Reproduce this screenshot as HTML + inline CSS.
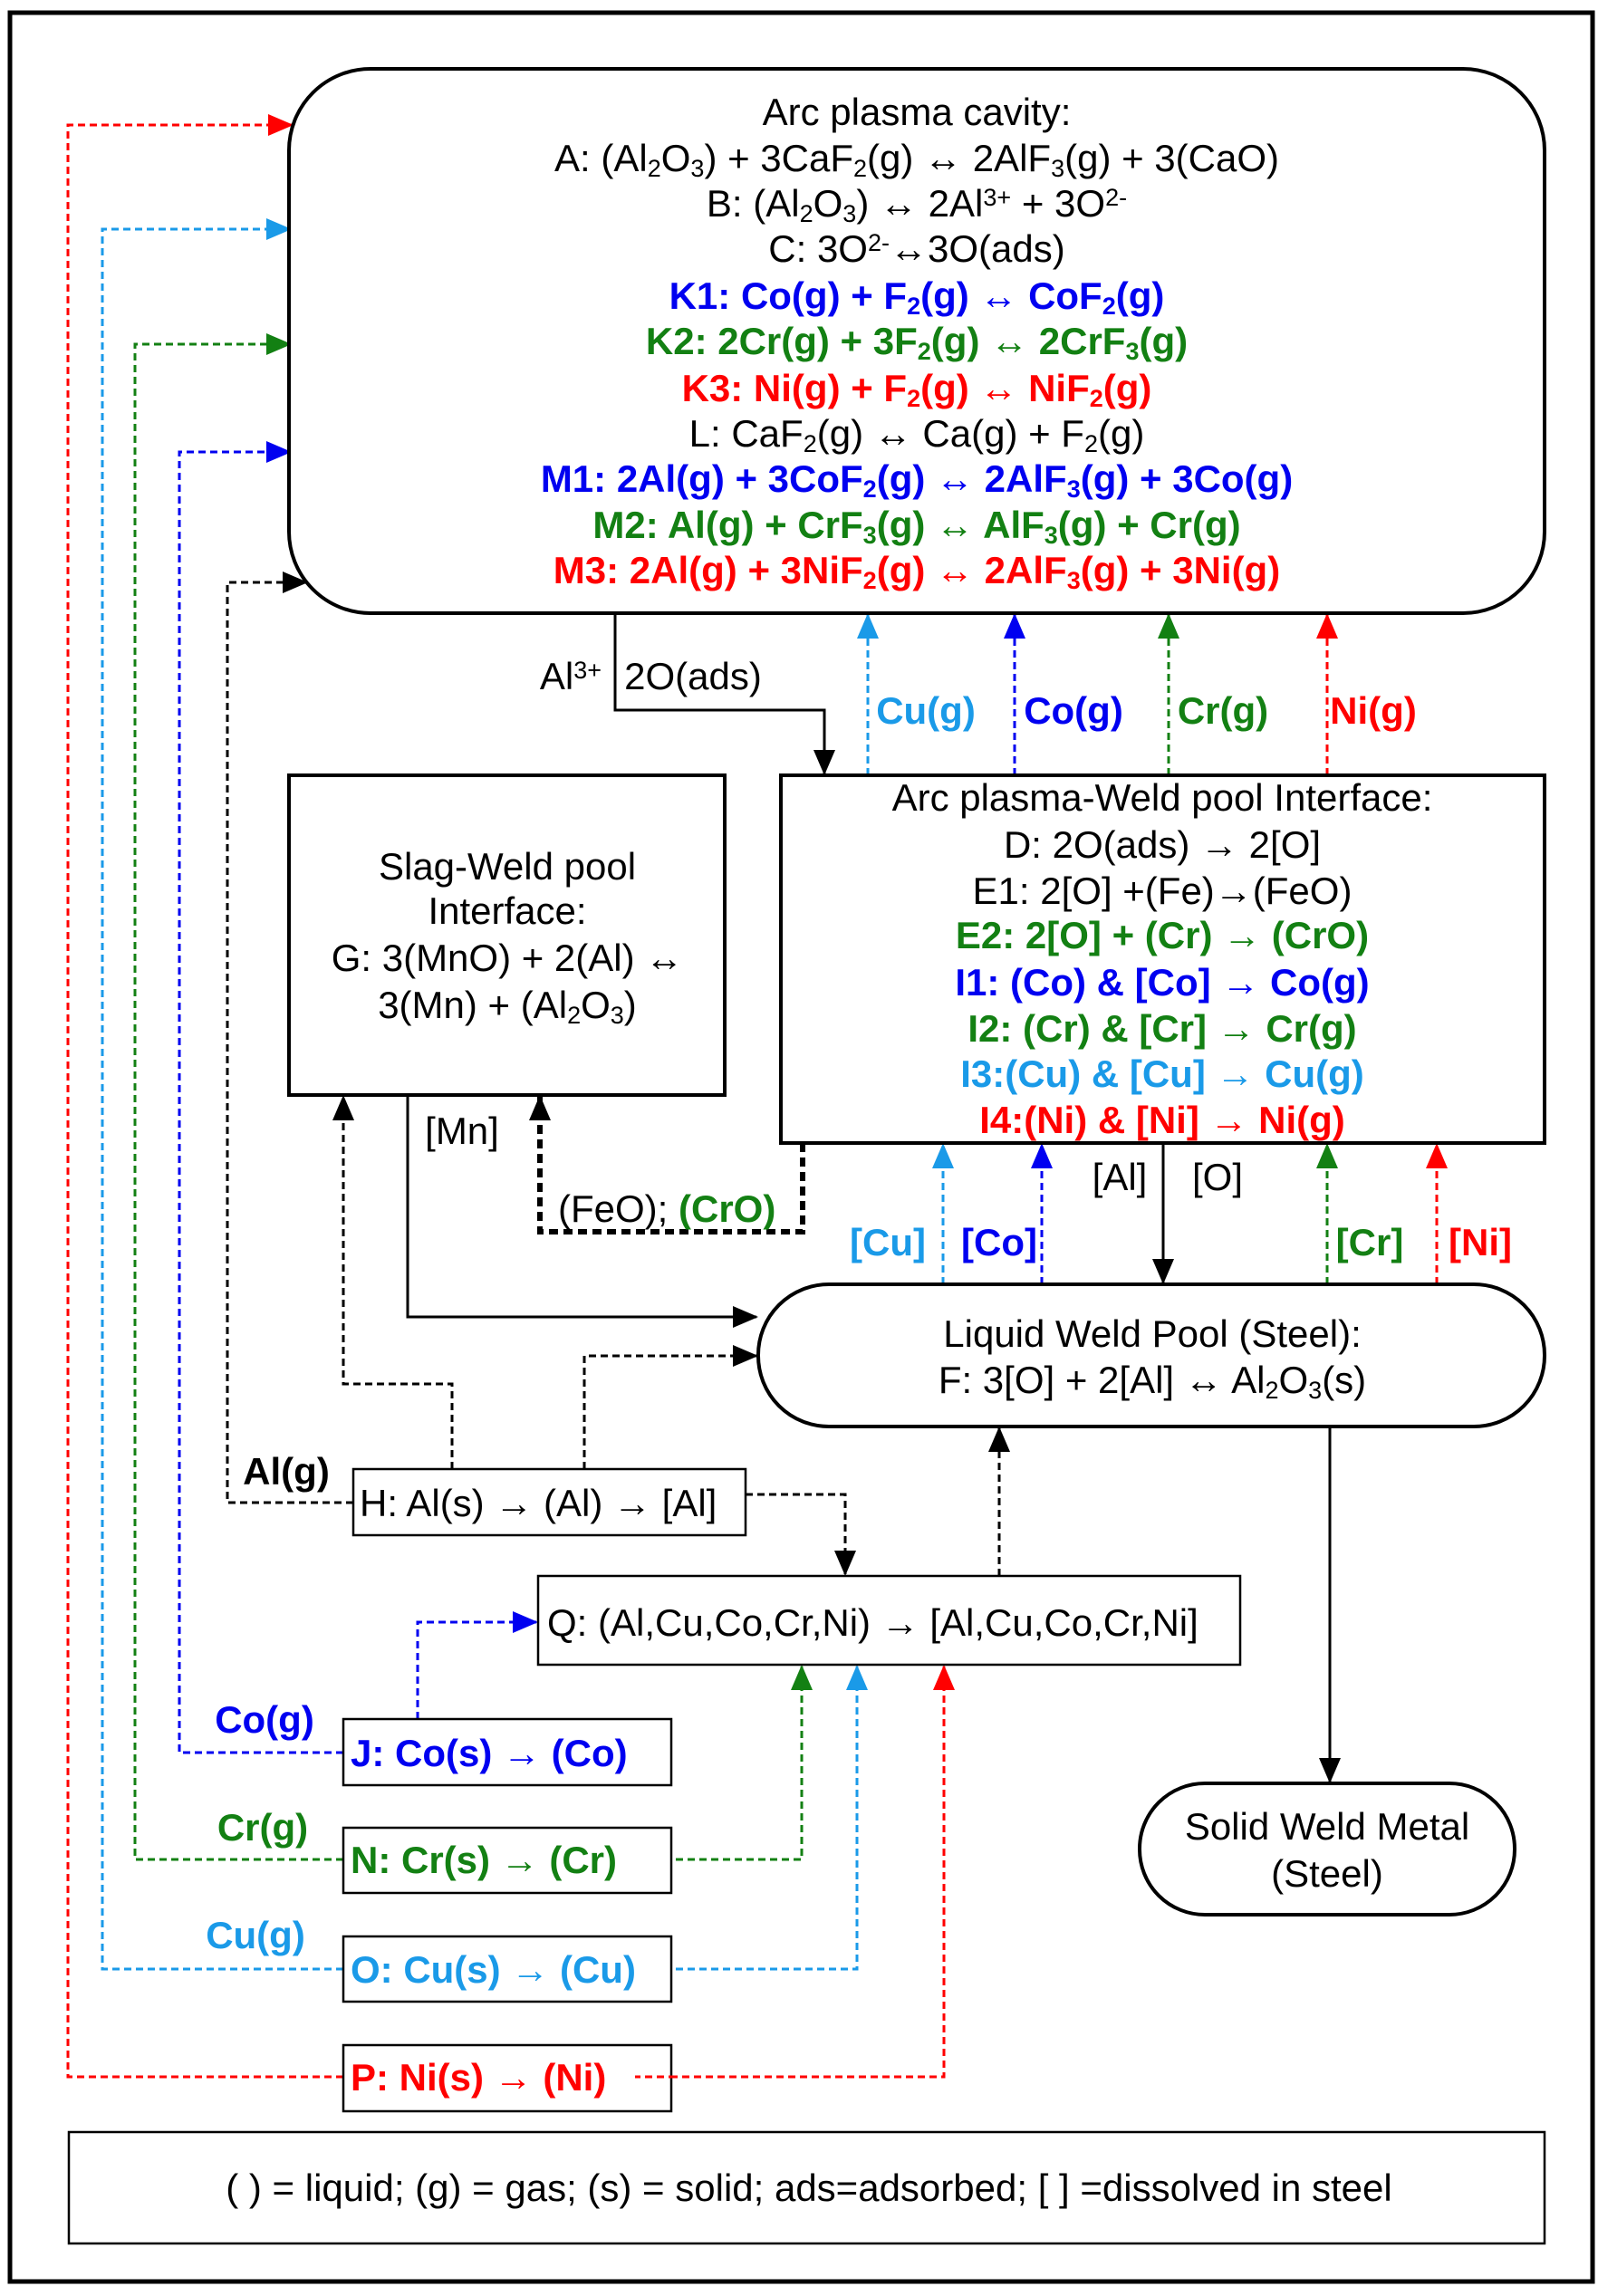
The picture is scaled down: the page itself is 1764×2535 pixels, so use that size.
<!DOCTYPE html>
<html><head><meta charset="utf-8"><style>
html,body{margin:0;padding:0;background:#fff}
svg{display:block}
text{font-family:"Liberation Sans",Arial,sans-serif;font-size:42px}
.b{font-weight:bold}
.s{font-size:27px;baseline-shift:-22%}
.p{font-size:27px;baseline-shift:45%}
.bl{fill:#0000f0}.gr{fill:#138013}.rd{fill:#ff0000}.lb{fill:#1a9ae8}
</style></head><body>
<svg width="1764" height="2535" viewBox="0 0 1764 2535" xmlns="http://www.w3.org/2000/svg">
<defs>
<marker id="mk" markerWidth="28" markerHeight="24" refX="26" refY="12" orient="auto" markerUnits="userSpaceOnUse"><path d="M0,0 L28,12 L0,24 Z" fill="#000"/></marker>
<marker id="mb" markerWidth="28" markerHeight="24" refX="26" refY="12" orient="auto" markerUnits="userSpaceOnUse"><path d="M0,0 L28,12 L0,24 Z" fill="#0000f0"/></marker>
<marker id="mg" markerWidth="28" markerHeight="24" refX="26" refY="12" orient="auto" markerUnits="userSpaceOnUse"><path d="M0,0 L28,12 L0,24 Z" fill="#138013"/></marker>
<marker id="mr" markerWidth="28" markerHeight="24" refX="26" refY="12" orient="auto" markerUnits="userSpaceOnUse"><path d="M0,0 L28,12 L0,24 Z" fill="#ff0000"/></marker>
<marker id="ml" markerWidth="28" markerHeight="24" refX="26" refY="12" orient="auto" markerUnits="userSpaceOnUse"><path d="M0,0 L28,12 L0,24 Z" fill="#1a9ae8"/></marker>
</defs>
<rect x="11" y="14" width="1747" height="2505" fill="none" stroke="#000" stroke-width="5"/>

<g fill="none" stroke-width="3" stroke-dasharray="8,5">
<path d="M379 2293 H75 V138 H322" stroke="#ff0000" marker-end="url(#mr)"/>
<path d="M379 2174 H113 V253 H320" stroke="#1a9ae8" marker-end="url(#ml)"/>
<path d="M379 2053 H149 V380 H320" stroke="#138013" marker-end="url(#mg)"/>
<path d="M379 1935 H198 V499 H320" stroke="#0000f0" marker-end="url(#mb)"/>
<path d="M390 1659 H251 V643 H338" stroke="#000" marker-end="url(#mk)"/>
<path d="M958 856 V679" stroke="#1a9ae8" marker-end="url(#ml)"/>
<path d="M1120 856 V679" stroke="#0000f0" marker-end="url(#mb)"/>
<path d="M1290 856 V679" stroke="#138013" marker-end="url(#mg)"/>
<path d="M1465 856 V679" stroke="#ff0000" marker-end="url(#mr)"/>
<path d="M1041 1418 V1264" stroke="#1a9ae8" marker-end="url(#ml)"/>
<path d="M1150 1418 V1264" stroke="#0000f0" marker-end="url(#mb)"/>
<path d="M1465 1418 V1264" stroke="#138013" marker-end="url(#mg)"/>
<path d="M1586 1418 V1264" stroke="#ff0000" marker-end="url(#mr)"/>
<path d="M499 1622 V1528 H379 V1211" stroke="#000" marker-end="url(#mk)"/>
<path d="M645 1622 V1497 H835" stroke="#000" marker-end="url(#mk)"/>
<path d="M823 1650 H933 V1738" stroke="#000" marker-end="url(#mk)"/>
<path d="M1103 1740 V1577" stroke="#000" marker-end="url(#mk)"/>
<path d="M461 1898 V1791 H592" stroke="#0000f0" marker-end="url(#mb)"/>
<path d="M746 2053 H885 V1840" stroke="#138013" marker-end="url(#mg)"/>
<path d="M746 2174 H946 V1840" stroke="#1a9ae8" marker-end="url(#ml)"/>
<path d="M701 2293 H1042 V1840" stroke="#ff0000" marker-end="url(#mr)"/>
</g>
<path d="M886 1262 V1360 H596 V1211" fill="none" stroke="#000" stroke-width="6" stroke-dasharray="10,6" marker-end="url(#mk)"/>
<g fill="none" stroke="#000" stroke-width="3">
<path d="M679 677 V784 H910 V854" marker-end="url(#mk)"/>
<path d="M450 1209 V1454 H835" marker-end="url(#mk)"/>
<path d="M1284 1262 V1416" marker-end="url(#mk)"/>
<path d="M1468 1575 V1967" marker-end="url(#mk)"/>
</g>

<g fill="#fff" stroke="#000">
<rect x="319" y="76" width="1386" height="601" rx="90" stroke-width="4"/>
<rect x="862" y="856" width="843" height="406" stroke-width="4"/>
<rect x="319" y="856" width="481" height="353" stroke-width="4"/>
<rect x="837" y="1418" width="868" height="157" rx="78" stroke-width="4"/>
<rect x="390" y="1622" width="433" height="73" stroke-width="2.5"/>
<rect x="594" y="1740" width="775" height="98" stroke-width="2.5"/>
<rect x="379" y="1898" width="362" height="73" stroke-width="2.5"/>
<rect x="379" y="2018" width="362" height="72" stroke-width="2.5"/>
<rect x="379" y="2138" width="362" height="72" stroke-width="2.5"/>
<rect x="379" y="2258" width="362" height="73" stroke-width="2.5"/>
<rect x="1258" y="1969" width="414" height="145" rx="72" stroke-width="4"/>
<rect x="76" y="2354" width="1629" height="123" stroke-width="2.5"/>
</g>
<path d="M746 2293 H701" stroke="#ff0000" stroke-width="3" stroke-dasharray="8,5"/>

<g text-anchor="middle">
<text x="1012" y="138">Arc plasma cavity:</text>
<text x="1012" y="189">A: (Al<tspan class="s">2</tspan>O<tspan class="s">3</tspan>) + 3CaF<tspan class="s">2</tspan>(g) ↔ 2AlF<tspan class="s">3</tspan>(g) + 3(CaO)</text>
<text x="1012" y="239">B: (Al<tspan class="s">2</tspan>O<tspan class="s">3</tspan>) ↔ 2Al<tspan class="p">3+</tspan> + 3O<tspan class="p">2-</tspan></text>
<text x="1012" y="289">C: 3O<tspan class="p">2-</tspan>↔3O(ads)</text>
<text x="1012" y="341" class="b bl">K1: Co(g) + F<tspan class="s">2</tspan>(g) ↔ CoF<tspan class="s">2</tspan>(g)</text>
<text x="1012" y="391" class="b gr">K2: 2Cr(g) + 3F<tspan class="s">2</tspan>(g) ↔ 2CrF<tspan class="s">3</tspan>(g)</text>
<text x="1012" y="443" class="b rd">K3: Ni(g) + F<tspan class="s">2</tspan>(g) ↔ NiF<tspan class="s">2</tspan>(g)</text>
<text x="1012" y="493">L: CaF<tspan class="s">2</tspan>(g) ↔ Ca(g) + F<tspan class="s">2</tspan>(g)</text>
<text x="1012" y="543" class="b bl">M1: 2Al(g) + 3CoF<tspan class="s">2</tspan>(g) ↔ 2AlF<tspan class="s">3</tspan>(g) + 3Co(g)</text>
<text x="1012" y="594" class="b gr">M2: Al(g) + CrF<tspan class="s">3</tspan>(g) ↔ AlF<tspan class="s">3</tspan>(g) +  Cr(g)</text>
<text x="1012" y="644" class="b rd">M3: 2Al(g) + 3NiF<tspan class="s">2</tspan>(g) ↔ 2AlF<tspan class="s">3</tspan>(g) + 3Ni(g)</text>

<text x="1283" y="895">Arc plasma-Weld pool Interface:</text>
<text x="1283" y="947">D: 2O(ads) → 2[O]</text>
<text x="1283" y="998">E1: 2[O] +(Fe)→(FeO)</text>
<text x="1283" y="1047" class="b gr">E2: 2[O] + (Cr) → (CrO)</text>
<text x="1283" y="1099" class="b bl">I1: (Co) &amp; [Co] → Co(g)</text>
<text x="1283" y="1150" class="b gr">I2: (Cr) &amp; [Cr] → Cr(g)</text>
<text x="1283" y="1200" class="b lb">I3:(Cu) &amp; [Cu] → Cu(g)</text>
<text x="1283" y="1251" class="b rd">I4:(Ni) &amp; [Ni] → Ni(g)</text>

<text x="560" y="971">Slag-Weld pool</text>
<text x="560" y="1020">Interface:</text>
<text x="560" y="1072">G: 3(MnO) + 2(Al) ↔</text>
<text x="560" y="1124">3(Mn) + (Al<tspan class="s">2</tspan>O<tspan class="s">3</tspan>)</text>

<text x="1272" y="1487">Liquid Weld Pool (Steel):</text>
<text x="1272" y="1538">F: 3[O] + 2[Al] ↔ Al<tspan class="s">2</tspan>O<tspan class="s">3</tspan>(s)</text>

<text x="1465" y="2031">Solid Weld Metal</text>
<text x="1465" y="2083">(Steel)</text>

<text x="893" y="2430">( ) = liquid; (g) = gas; (s) = solid; ads=adsorbed; [ ] =dissolved in steel</text>
</g>

<text x="630" y="761" text-anchor="middle">Al<tspan class="p">3+</tspan></text>
<text x="765" y="761" text-anchor="middle">2O(ads)</text>
<text x="1022" y="799" text-anchor="middle" class="b lb">Cu(g)</text>
<text x="1185" y="799" text-anchor="middle" class="b bl">Co(g)</text>
<text x="1350" y="799" text-anchor="middle" class="b gr">Cr(g)</text>
<text x="1516" y="799" text-anchor="middle" class="b rd">Ni(g)</text>
<text x="510" y="1263" text-anchor="middle">[Mn]</text>
<text x="616" y="1349">(FeO); <tspan class="b gr">(CrO)</tspan></text>
<text x="1236" y="1314" text-anchor="middle">[Al]</text>
<text x="1344" y="1314" text-anchor="middle">[O]</text>
<text x="980" y="1386" text-anchor="middle" class="b lb">[Cu]</text>
<text x="1103" y="1386" text-anchor="middle" class="b bl">[Co]</text>
<text x="1512" y="1386" text-anchor="middle" class="b gr">[Cr]</text>
<text x="1634" y="1386" text-anchor="middle" class="b rd">[Ni]</text>
<text x="316" y="1639" text-anchor="middle" class="b">Al(g)</text>
<text x="292" y="1913" text-anchor="middle" class="b bl">Co(g)</text>
<text x="290" y="2032" text-anchor="middle" class="b gr">Cr(g)</text>
<text x="282" y="2151" text-anchor="middle" class="b lb">Cu(g)</text>

<text x="397" y="1674">H: Al(s) → (Al) → [Al]</text>
<text x="604" y="1806">Q: (Al,Cu,Co,Cr,Ni) → [Al,Cu,Co,Cr,Ni]</text>
<text x="387" y="1950" class="b bl">J: Co(s) → (Co)</text>
<text x="387" y="2068" class="b gr">N: Cr(s) → (Cr)</text>
<text x="387" y="2189" class="b lb">O: Cu(s) → (Cu)</text>
<text x="387" y="2308" class="b rd">P: Ni(s) → (Ni)</text>
</svg>
</body></html>
